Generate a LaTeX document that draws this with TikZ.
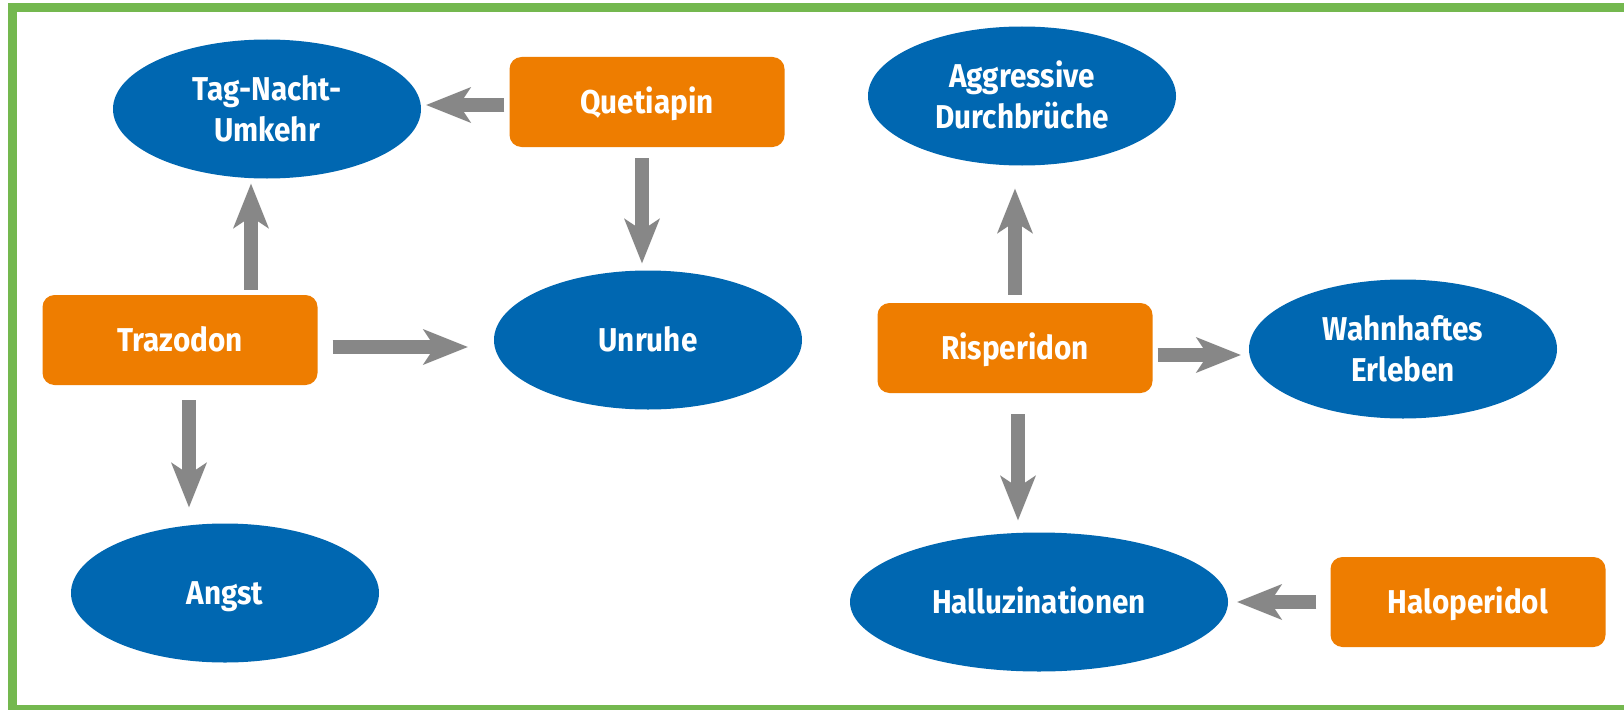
\documentclass[tikz,border=0pt]{standalone}
\usepackage{fontspec}
\newfontfamily\lblfont{Fira Sans}[FakeStretch=0.9]
\usetikzlibrary{arrows.meta,calc,shapes.geometric}
\definecolor{symblue}{HTML}{0067B1}
\definecolor{drugorange}{HTML}{EE7D00}
\definecolor{arrowgray}{HTML}{878787}
\definecolor{framegreen}{HTML}{74B84F}
\tikzset{
  lbl/.style={text=white, font=\lblfont\bfseries\fontsize{33}{41}\selectfont,
    align=center, inner sep=0pt, text height=23pt, text depth=0pt},
  % two lines: box runs from the cap top of line 1 to the baseline of line 2
  twoline/.style={text height=64pt, text depth=0pt},
  drug/.style={lbl, fill=drugorange, rounded corners=12pt,
    minimum width=275pt, minimum height=90pt},
  symptom/.style={lbl, ellipse, fill=symblue,
    minimum width=308pt, minimum height=139pt},
  effect/.style={draw=arrowgray, line width=14pt,
    -{Stealth[length=45pt,width=36pt,inset=12pt,line width=0pt]}},
}
\begin{document}
\begin{tikzpicture}[x=1pt,y=-1pt]
  \useasboundingbox (0,0) rectangle (1624,709);
  \fill[white] (0,0) rectangle (1624,709);
  % outer frame
  \draw[framegreen, line width=8.5pt] (12.5,7.5) rectangle (1640,709);

  % medications and symptoms
  \node[symptom,twoline] (tag) at (267,109) {Tag-Nacht-\\Umkehr};
  \node[drug] (quet) at (647,102) {Quetiapin};
  \node[drug] (traz) at (180,340) {Trazodon};
  \node[symptom] (unruhe) at (648,340) {Unruhe};
  \node[symptom] (angst) at (225,593) {Angst};
  \node[symptom,twoline] (aggr) at (1022,96) {Aggressive\\Durchbrüche};
  \node[drug] (risp) at (1015,348) {Risperidon};
  \node[symptom,twoline] (wahn) at (1403,349) {Wahnhaftes\\Erleben};
  \node[symptom, minimum width=378pt] (hall) at (1039,602) {Halluzinationen};
  \node[drug] (halo) at (1468,602) {Haloperidol};

  % effects
  \draw[effect] ($(quet.west)+(-5,3)$) -- ($(tag.east)+(5,-4)$);
  \draw[effect] ($(quet.south)+(-5,11)$) -- ($(unruhe.north)+(-6,-7)$);
  \draw[effect] ($(traz.north)+(71,-5)$) -- ($(tag.south)+(-16,5)$);
  \draw[effect] ($(traz.east)+(15,7)$) -- ($(unruhe.west)+(-26,7)$);
  \draw[effect] ($(traz.south)+(9,15)$) -- ($(angst.north)+(-36,-16)$);
  \draw[effect] ($(risp.north)+(0,-8)$) -- ($(aggr.south)+(-7,23)$);
  \draw[effect] ($(risp.east)+(5,7)$) -- ($(wahn.west)+(-8,6)$);
  \draw[effect] ($(risp.south)+(3,21)$) -- ($(hall.north)+(-21,-12)$);
  \draw[effect] ($(halo.west)+(-14,0)$) -- ($(hall.east)+(9,0)$);
\end{tikzpicture}
\end{document}
